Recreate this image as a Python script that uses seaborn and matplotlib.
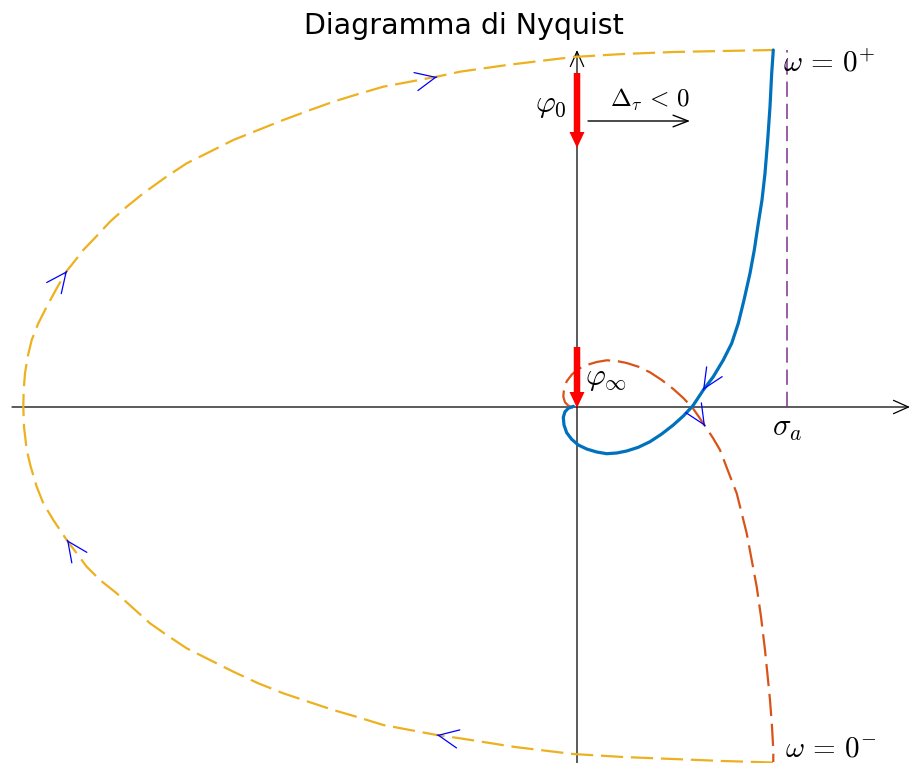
import numpy as np
import matplotlib
matplotlib.use("Agg")
import matplotlib.pyplot as plt
import seaborn as sns

# Nyquist curve, positive frequencies (solid blue), (Re, Im)
pos_pts = np.array([
    (1.963, 3.57), (1.947, 3.337), (1.93, 3.003), (1.907, 2.67), (1.88, 2.337), (1.85, 2.07),
    (1.813, 1.837), (1.773, 1.57), (1.73, 1.337), (1.67, 1.07), (1.613, 0.837), (1.547, 0.637),
    (1.463, 0.47), (1.363, 0.303), (1.263, 0.17), (1.197, 0.07), (1.157, 0.01), (1.063, -0.09),
    (0.963, -0.18), (0.847, -0.27), (0.73, -0.347), (0.613, -0.403), (0.497, -0.44), (0.397, -0.46),
    (0.297, -0.467), (0.197, -0.45), (0.097, -0.42), (0.013, -0.38), (-0.053, -0.323),
    (-0.103, -0.257), (-0.13, -0.18), (-0.137, -0.103), (-0.12, -0.047), (-0.087, -0.013),
    (-0.037, 0.007)])

# Nyquist curve, negative frequencies (dashed orange)
neg_pts = np.array([
    (-0.037, -0.007), (-0.087, 0.013), (-0.12, 0.047), (-0.137, 0.103), (-0.13, 0.18),
    (-0.103, 0.257), (-0.053, 0.323), (0.013, 0.38), (0.097, 0.42), (0.197, 0.45), (0.297, 0.467),
    (0.397, 0.46), (0.497, 0.44), (0.613, 0.403), (0.73, 0.347), (0.847, 0.27), (0.963, 0.18),
    (1.063, 0.09), (1.157, -0.01), (1.22, -0.10), (1.28, -0.19), (1.36, -0.31), (1.43, -0.43),
    (1.513, -0.647), (1.597, -0.863), (1.647, -1.063), (1.697, -1.263), (1.747, -1.53),
    (1.797, -1.797), (1.84, -2.097), (1.88, -2.43), (1.907, -2.697), (1.93, -2.93),
    (1.95, -3.197), (1.963, -3.43), (1.963, -3.55)])

# closure at infinity (dashed yellow), from omega=0- round to omega=0+
inf_pts = np.array([
    (1.96, -3.555), (1.46, -3.54), (0.96, -3.52), (0.46, -3.50), (-0.04, -3.47), (-0.62, -3.40),
    (-1.17, -3.313), (-1.403, -3.28), (-1.67, -3.23), (-1.937, -3.18), (-2.187, -3.103),
    (-2.437, -3.03), (-2.687, -2.947), (-2.937, -2.863), (-3.187, -2.763), (-3.437, -2.647),
    (-3.67, -2.53), (-3.903, -2.413), (-4.103, -2.28), (-4.27, -2.163), (-4.437, -2.013),
    (-4.603, -1.863), (-4.77, -1.73), (-4.903, -1.597), (-5.003, -1.463), (-5.103, -1.33),
    (-5.237, -1.13), (-5.337, -0.963), (-5.403, -0.797), (-5.463, -0.597), (-5.503, -0.43),
    (-5.53, -0.197), (-5.537, 0.0), (-5.533, 0.17), (-5.52, 0.337), (-5.493, 0.503),
    (-5.453, 0.67), (-5.387, 0.837), (-5.303, 1.003), (-5.203, 1.187), (-5.103, 1.36),
    (-5.02, 1.463), (-4.937, 1.57), (-4.803, 1.71), (-4.67, 1.853), (-4.503, 2.003),
    (-4.337, 2.137), (-4.12, 2.293), (-3.903, 2.437), (-3.67, 2.553), (-3.437, 2.67),
    (-3.187, 2.77), (-2.937, 2.87), (-2.687, 2.963), (-2.437, 3.053), (-2.187, 3.13),
    (-1.937, 3.203), (-1.67, 3.253), (-1.403, 3.303), (-1.17, 3.353), (-0.70, 3.42),
    (-0.04, 3.50), (0.46, 3.53), (0.96, 3.55), (1.46, 3.56), (1.963, 3.57)])

# direction chevrons: tip and a point it aims towards
chev_tip = [(-1.40, -3.28), (-5.10, -1.33), (-5.10, 1.36), (-1.40, 3.30), (1.26, 0.17), (1.28, -0.19)]
chev_to = [(-1.94, -3.18), (-5.24, -1.13), (-4.94, 1.57), (-1.17, 3.35), (1.16, 0.01), (1.43, -0.43)]

sigma_a = 2.10
phi0 = (3.34, 2.59)
phi_inf = (0.60, -0.01)
delta_arrow = (0.11, 1.13, 2.86)

sns.set_theme(style="white")
plt.rcParams["font.family"] = ["DejaVu Sans"]
plt.rcParams["mathtext.fontset"] = "cm"
plt.rcParams["text.color"] = "black"

fig = plt.figure(figsize=(9.11, 7.63), dpi=100)
ax = fig.add_axes([0, 0, 1, 1])
ax.set_xlim(-5.77, 3.34)
ax.set_ylim(-3.56, 4.07)
ax.axis("off")

# axes with arrows
ax.annotate("", xy=(3.33, 0), xytext=(-5.65, 0),
            arrowprops=dict(arrowstyle="->,head_length=0.9,head_width=0.4", color="black", lw=0.9,
                            shrinkA=0, shrinkB=0), zorder=1)
ax.annotate("", xy=(0, 3.57), xytext=(0, -3.60),
            arrowprops=dict(arrowstyle="->,head_length=0.9,head_width=0.4", color="black", lw=0.9,
                            shrinkA=0, shrinkB=0), zorder=1)

dash = (0, (10, 3.5))
sns.lineplot(x=inf_pts[:, 0], y=inf_pts[:, 1], sort=False, estimator=None, ax=ax,
             color="#EDB120", lw=1.6, linestyle=dash, zorder=2)
sns.lineplot(x=neg_pts[:, 0], y=neg_pts[:, 1], sort=False, estimator=None, ax=ax,
             color="#D95319", lw=1.6, linestyle=dash, zorder=2)
sns.lineplot(x=pos_pts[:, 0], y=pos_pts[:, 1], sort=False, estimator=None, ax=ax,
             color="#0072BD", lw=2.3, zorder=3, solid_joinstyle="round")
ax.plot([sigma_a, sigma_a], [0, 3.57], color="#7E2F8E", lw=1.1, linestyle=(0, (10, 4.5)), zorder=2)

for tip, to in zip(chev_tip, chev_to):
    d = np.array(to) - np.array(tip)
    d = d / np.hypot(*d)
    tail = np.array(tip) - 0.002 * d
    ax.annotate("", xy=tip, xytext=tail,
                arrowprops=dict(arrowstyle="->,head_length=1.2,head_width=0.55", color="blue",
                                lw=0.9, shrinkA=0, shrinkB=0), zorder=5)

# phase arrows
for y0, y1 in (phi0, phi_inf):
    ax.arrow(0, y0, 0, y1 - y0, width=0.065, head_width=0.15, head_length=0.16,
             length_includes_head=True, color="red", lw=0, zorder=6)

ax.annotate("", xy=(delta_arrow[1], delta_arrow[2]), xytext=(delta_arrow[0], delta_arrow[2]),
            arrowprops=dict(arrowstyle="->,head_length=0.9,head_width=0.35", color="black", lw=1.0,
                            shrinkA=0, shrinkB=0), zorder=4)

ax.text(-1.13, 3.73, "Diagramma di Nyquist", fontsize=20.5, ha="center", va="baseline",
        color="black")
ax.text(2.06, 3.35, r"$\omega \,=\, 0^{+}$", fontsize=21, ha="left", va="baseline")
ax.text(2.08, -3.555, r"$\omega \,=\, 0^{-}$", fontsize=21, ha="left", va="bottom")
ax.text(sigma_a, -0.29, r"$\sigma_a$", fontsize=22, ha="center", va="baseline")
ax.text(-0.10, 2.95, r"$\varphi_0$", fontsize=22, ha="right", va="baseline")
ax.text(0.08, 0.22, r"$\varphi_\infty$", fontsize=22, ha="left", va="baseline")
ax.text(0.73, 3.00, r"$\Delta_\tau \,<\, 0$", fontsize=18, ha="center", va="baseline")

fig.savefig("out.png", dpi=100)
